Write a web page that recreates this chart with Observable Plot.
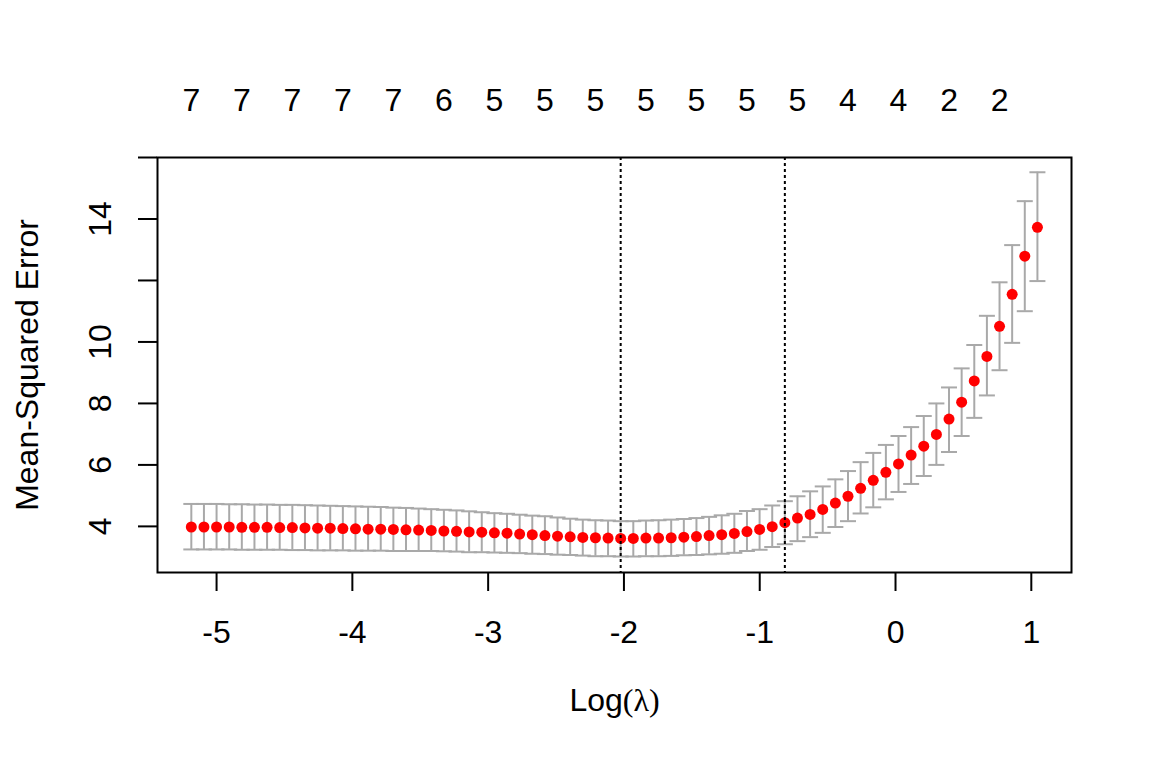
<!DOCTYPE html>
<html><head><meta charset="utf-8">
<script src="https://cdn.jsdelivr.net/npm/d3@7"></script>
<script src="https://cdn.jsdelivr.net/npm/@observablehq/plot@0.6"></script>
<style>html,body{margin:0;padding:0;background:#fff;} svg{display:block}</style>
</head><body><div id="chart"></div>
<script>
// log(lambda) for each fitted lambda
const logLambda = [-5.186,-5.093,-5.000,-4.907,-4.814,-4.721,-4.628,-4.535,-4.442,-4.349,
  -4.256,-4.163,-4.070,-3.977,-3.884,-3.791,-3.698,-3.605,-3.512,-3.419,
  -3.326,-3.233,-3.140,-3.047,-2.954,-2.861,-2.768,-2.675,-2.582,-2.489,
  -2.396,-2.303,-2.210,-2.117,-2.024,-1.931,-1.838,-1.745,-1.652,-1.559,
  -1.466,-1.373,-1.280,-1.187,-1.094,-1.001,-0.908,-0.815,-0.722,-0.629,
  -0.536,-0.443,-0.350,-0.257,-0.164,-0.071,0.022,0.115,0.208,0.301,
  0.394,0.487,0.580,0.673,0.766,0.859,0.952,1.045];
// cross-validated mean squared error
const mse = [3.98,3.98,3.98,3.98,3.97,3.97,3.97,3.96,3.96,3.95,
  3.94,3.94,3.93,3.92,3.91,3.91,3.90,3.89,3.88,3.87,
  3.85,3.84,3.82,3.81,3.79,3.78,3.75,3.73,3.70,3.68,
  3.66,3.64,3.63,3.62,3.61,3.61,3.62,3.62,3.63,3.65,
  3.67,3.70,3.73,3.77,3.83,3.90,3.99,4.12,4.27,4.39,
  4.55,4.76,4.98,5.24,5.50,5.76,6.03,6.32,6.61,6.99,
  7.49,8.04,8.73,9.53,10.51,11.55,12.79,13.73];
// upper error bar (mse + se)
const upper = [4.73,4.73,4.73,4.72,4.72,4.71,4.71,4.70,4.70,4.69,
  4.68,4.67,4.66,4.65,4.64,4.63,4.61,4.60,4.58,4.56,
  4.54,4.52,4.49,4.46,4.43,4.41,4.38,4.35,4.33,4.29,
  4.25,4.22,4.20,4.19,4.17,4.17,4.19,4.20,4.22,4.24,
  4.27,4.31,4.36,4.41,4.50,4.56,4.68,4.82,4.98,5.14,
  5.30,5.53,5.80,6.09,6.39,6.65,6.94,7.23,7.59,8.00,
  8.52,9.14,9.90,10.85,11.94,13.15,14.58,15.52];
// lower error bar (mse - se)
const lower = [3.25,3.25,3.25,3.25,3.24,3.24,3.24,3.24,3.23,3.23,
  3.22,3.22,3.22,3.21,3.21,3.21,3.20,3.20,3.20,3.20,
  3.19,3.18,3.16,3.16,3.15,3.14,3.13,3.11,3.10,3.08,
  3.07,3.05,3.03,3.03,3.02,3.02,3.03,3.03,3.04,3.06,
  3.07,3.09,3.11,3.14,3.20,3.24,3.33,3.42,3.52,3.65,
  3.79,3.98,4.17,4.42,4.62,4.88,5.12,5.38,5.64,6.00,
  6.42,6.94,7.53,8.26,9.08,9.97,11.00,11.98];
// number of nonzero coefficients, shown above the plot
const nzIndex = [0,4,8,12,16,20,24,28,32,36,40,44,48,52,56,60,64];
const nzLabels = ["7","7","7","7","7","6","5","5","5","5","5","5","5","4","4","2","2"];
const lambdaMinIndex = 34;
const lambda1seIndex = 47;
const xTicks = [-5,-4,-3,-2,-1,0,1];
const yTicks = [4,6,8,10,12,14,16];
const yTickLabels = [4,6,8,10,14];

const data = logLambda.map((L, i) => ({L, mse: mse[i], hi: upper[i], lo: lower[i]}));
const topLabels = nzIndex.map((k, j) => ({L: logLambda[k], label: nzLabels[j]}));
const vlines = [logLambda[lambdaMinIndex], logLambda[lambda1seIndex]];
const cap = {draw(ctx) { ctx.moveTo(-8, 0); ctx.lineTo(8, 0); }};
const grey = "#A9A9A9";
const noLabel = () => "";

const chart = Plot.plot({
  width: 1152, height: 768,
  marginLeft: 157, marginRight: 81, marginTop: 157, marginBottom: 196,
  x: {domain: [-5.435, 1.296], label: null},
  y: {domain: [2.5, 16.0], label: null},
  style: {fontFamily: "'Liberation Sans', Arial, sans-serif", fontSize: "32px", background: "#fff", color: "#000"},
  marks: [
    Plot.ruleX(data, {x: "L", y1: "lo", y2: "hi", stroke: grey, strokeWidth: 2}),
    Plot.dot(data, {x: "L", y: "hi", symbol: cap, fill: "none", stroke: grey, strokeWidth: 2}),
    Plot.dot(data, {x: "L", y: "lo", symbol: cap, fill: "none", stroke: grey, strokeWidth: 2}),
    Plot.dot(data, {x: "L", y: "mse", r: 5.5, fill: "#FF0000", stroke: "none"}),
    Plot.ruleX(vlines, {x: d => d, stroke: "#000", strokeWidth: 2, strokeDasharray: "3,3"}),
    Plot.frame({stroke: "#000", strokeWidth: 2}),
    Plot.axisX({ticks: xTicks, tickSize: 19, tickFormat: noLabel, strokeWidth: 2, label: null}),
    Plot.axisY({ticks: yTicks, tickSize: 19, tickFormat: noLabel, strokeWidth: 2, label: null}),
    Plot.text(xTicks, {x: d => d, text: d => String(d), frameAnchor: "bottom", dy: 60, textAnchor: "middle", lineAnchor: "middle", fontSize: 32}),
    Plot.text(yTickLabels, {y: d => d, text: d => String(d), frameAnchor: "left", dx: -56.5, rotate: -90, textAnchor: "middle", lineAnchor: "middle", fontSize: 32}),
    Plot.text(topLabels, {x: "L", text: "label", frameAnchor: "top", dy: -56.5, textAnchor: "middle", lineAnchor: "middle", fontSize: 32}),
    Plot.text(["Mean-Squared Error"], {text: d => d, frameAnchor: "left", dx: -130, rotate: -90, textAnchor: "middle", lineAnchor: "middle", fontSize: 32}),
    Plot.text(["Log(λ)"], {text: d => d, frameAnchor: "bottom", dy: 128, textAnchor: "middle", lineAnchor: "middle", fontSize: 32})
  ]
});
document.getElementById("chart").appendChild(chart);
chart.querySelectorAll("text").forEach(t => {
  if (t.textContent === "Log(λ)") {
    t.textContent = "Log";
    const ts = document.createElementNS("http://www.w3.org/2000/svg", "tspan");
    ts.setAttribute("font-family", "'Liberation Serif', 'Times New Roman', serif");
    ts.textContent = "(λ)";
    t.appendChild(ts);
  }
});
</script>
</body></html>
